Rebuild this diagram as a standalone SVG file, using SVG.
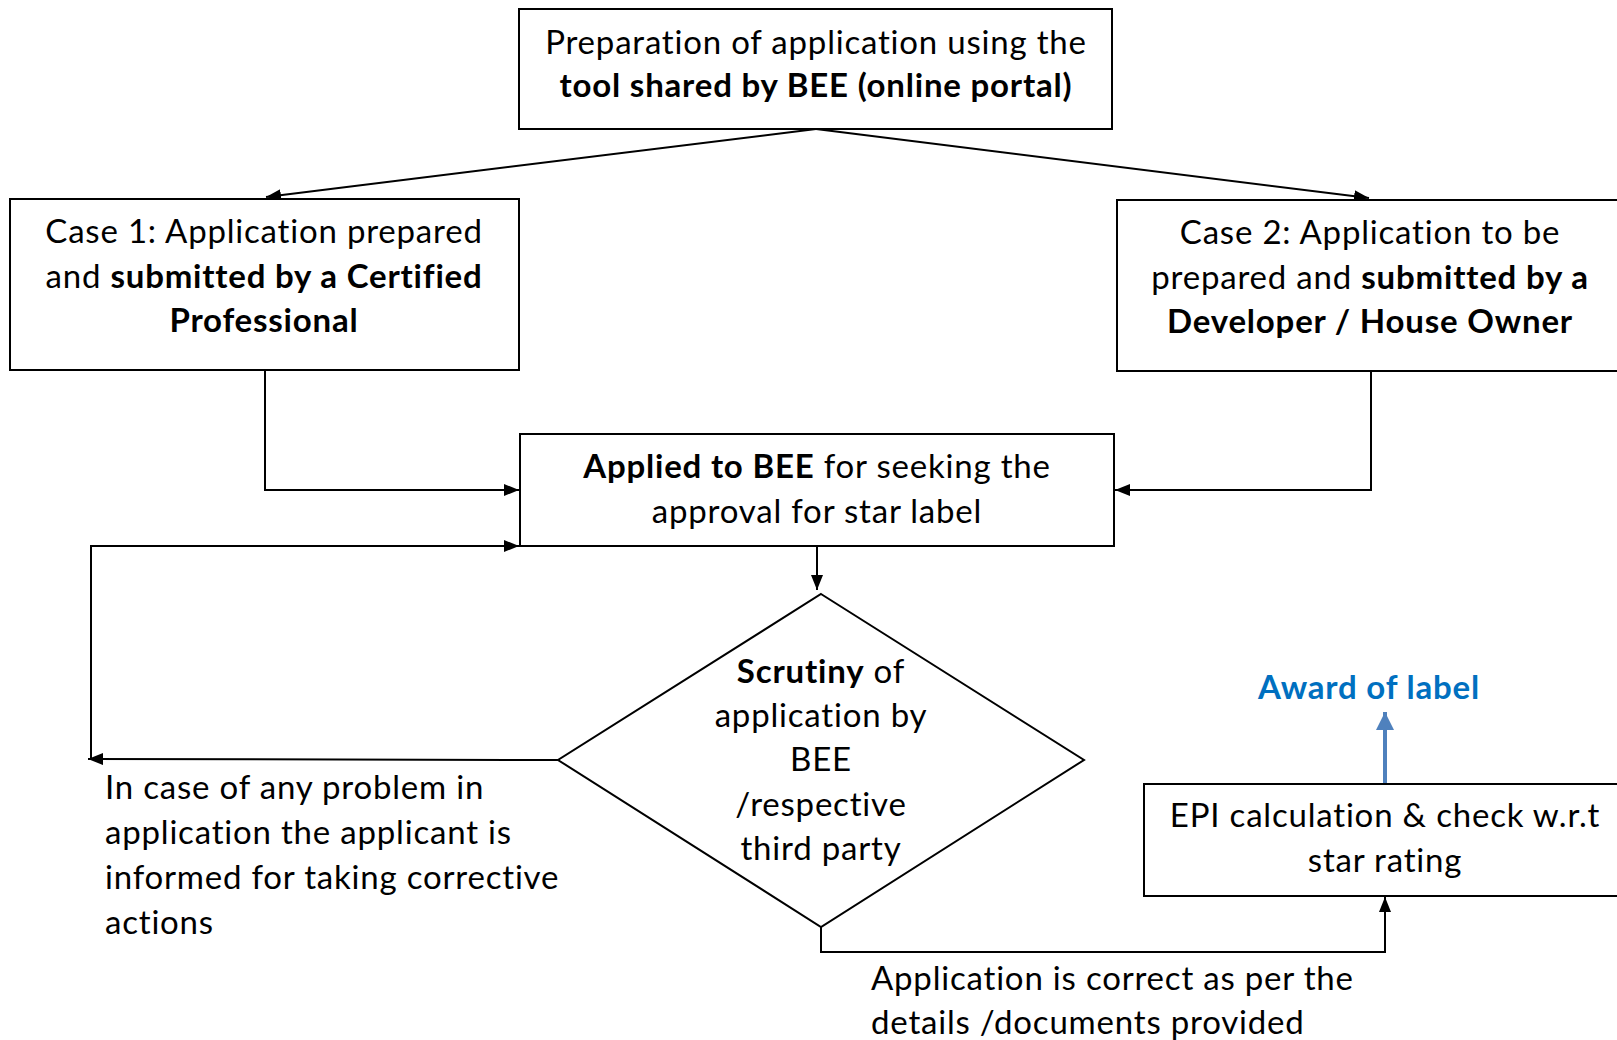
<svg xmlns="http://www.w3.org/2000/svg" width="1617" height="1040" viewBox="0 0 1617 1040">
<defs>
<style>
.box{fill:#fff;stroke:#000;stroke-width:2}
.t{font-family:Lato,"Open Sans","Liberation Sans",sans-serif;font-size:33px;letter-spacing:0.8px;fill:#000}
.c{text-anchor:middle}
.b{font-weight:bold}
.ln{fill:none;stroke:#000;stroke-width:2}
.blue{fill:#0070C0;font-weight:bold}
</style>
<marker id="ah" viewBox="0 0 15 12" refX="15" refY="6" markerWidth="15" markerHeight="12" markerUnits="userSpaceOnUse" orient="auto">
<path d="M0,0 L15,6 L0,12 Z" fill="#000"/>
</marker>
<marker id="ahb" viewBox="0 0 18 18" refX="18" refY="9" markerWidth="18" markerHeight="18" markerUnits="userSpaceOnUse" orient="auto">
<path d="M0,0 L18,9 L0,18 Z" fill="#4F81BD"/>
</marker>
</defs>
<rect width="1617" height="1040" fill="#fff"/>

<g id="connectors">
<path class="ln" d="M816,129 L266,197" marker-end="url(#ah)"/>
<path class="ln" d="M816,129 L1369,198" marker-end="url(#ah)"/>
<path class="ln" d="M265,370 L265,490 L519,490" marker-end="url(#ah)"/>
<path class="ln" d="M1371,371 L1371,490 L1115,490" marker-end="url(#ah)"/>
<path class="ln" d="M817,546 L817,590" marker-end="url(#ah)"/>
<path class="ln" d="M558,760 L88,759" marker-end="url(#ah)"/>
<path class="ln" d="M91,759 L91,546 L519,546" marker-end="url(#ah)"/>
<path class="ln" d="M821,927 L821,952 L1385,952 L1385,897" marker-end="url(#ah)"/>
<path d="M1385,784 L1385,712" fill="none" stroke="#4F81BD" stroke-width="4" marker-end="url(#ahb)"/>
</g>

<g id="node-prep">
<rect class="box" x="519" y="9" width="593" height="120"/>
<text class="t c" x="816" y="54">Preparation of application using the</text>
<text class="t c b" x="816" y="97">tool shared by BEE (online portal)</text>
</g>

<g id="node-case1">
<rect class="box" x="10" y="199" width="509" height="171"/>
<text class="t c" x="264" y="243">Case 1: Application prepared</text>
<text class="t c" x="264" y="288">and <tspan class="b">submitted by a Certified</tspan></text>
<text class="t c b" x="264" y="332">Professional</text>
</g>

<g id="node-case2">
<rect class="box" x="1117" y="200" width="510" height="171"/>
<text class="t c" x="1370" y="244">Case 2: Application to be</text>
<text class="t c" x="1370" y="289">prepared and <tspan class="b">submitted by a</tspan></text>
<text class="t c b" x="1370" y="333">Developer / House Owner</text>
</g>

<g id="node-applied">
<rect class="box" x="520" y="434" width="594" height="112"/>
<text class="t c" x="817" y="478"><tspan class="b">Applied to BEE</tspan> for seeking the</text>
<text class="t c" x="817" y="523">approval for star label</text>
</g>

<g id="node-scrutiny">
<polygon class="box" points="821,594 1084,760 821,927 558,760"/>
<text class="t c" x="821" y="683"><tspan class="b">Scrutiny</tspan> of</text>
<text class="t c" x="821" y="727">application by</text>
<text class="t c" x="821" y="771">BEE</text>
<text class="t c" x="821" y="816">/respective</text>
<text class="t c" x="821" y="860">third party</text>
</g>

<g id="node-problem">
<text class="t" x="105" y="799">In case of any problem in</text>
<text class="t" x="105" y="844">application the applicant is</text>
<text class="t" x="105" y="889">informed for taking corrective</text>
<text class="t" x="105" y="934">actions</text>
</g>

<g id="node-epi">
<rect class="box" x="1144" y="784" width="483" height="112"/>
<text class="t c" x="1385" y="827">EPI calculation &amp; check w.r.t</text>
<text class="t c" x="1385" y="872">star rating</text>
</g>

<g id="node-award">
<text class="t c blue" x="1369" y="699">Award of label</text>
</g>

<g id="node-correct">
<text class="t" x="871" y="990">Application is correct as per the</text>
<text class="t" x="871" y="1034">details /documents provided</text>
</g>
</svg>
